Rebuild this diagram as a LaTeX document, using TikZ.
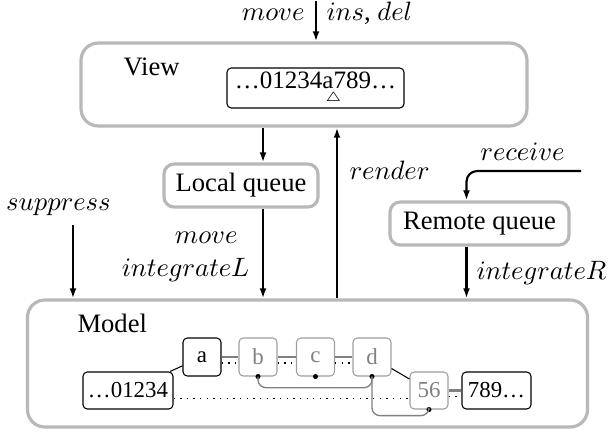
\documentclass[tikz,border=0pt]{standalone}
\usepackage{fontspec}
\setmainfont{Liberation Serif}
\usetikzlibrary{arrows.meta}

\definecolor{framegray}{gray}{0.72}
\definecolor{elemgray}{gray}{0.62}
\definecolor{textgray}{gray}{0.5}
\definecolor{linkgray}{gray}{0.5}

\newcommand\elemfont{\fontsize{8.6pt}{10pt}\selectfont}
\newcommand\bufferfont{\fontsize{9.4pt}{11pt}\selectfont}

\tikzset{
  pxsize/.style 2 args={minimum width=#1*0.376pt, minimum height=#2*0.376pt},
  frame/.style={draw=framegray, line width=1.2pt, rounded corners=6.5pt, inner sep=0pt},
  queue/.style={draw=framegray, line width=1.2pt, rounded corners=3.8pt, inner sep=0pt},
  seq/.style={draw=black, line width=0.4pt, rounded corners=1.6pt, inner sep=0pt, font=\elemfont},
  ghost/.style={draw=elemgray, text=textgray, line width=0.4pt, rounded corners=1.6pt,
                inner sep=0pt, pxsize={38}{38}, font=\elemfont},
  flow/.style={-{Latex[length=3.8pt,width=2.6pt]}, line width=0.8pt},
  mlabel/.style={inner sep=0pt},
  marker/.style={circle, fill=black, inner sep=0pt, minimum size=1.9pt},
  nextlink/.style={draw=linkgray, line width=0.9pt},
  seqlink/.style={dotted, line width=0.5pt},
  pointer/.style={draw=linkgray, line width=0.5pt, rounded corners=3pt}
}

\begin{document}
\begin{tikzpicture}[x=0.376pt, y=-0.376pt]
  \useasboundingbox (0,0) rectangle (608,436);

  % ---- view layer ----
  \node[frame, pxsize={446}{83}] (view) at (304,84.5) {};
  \node[mlabel, anchor=base west] (viewname) at (123,75) {View};
  \node[seq, pxsize={177}{40}, font=\bufferfont] (buffer) at (315.5,88)
    {\ldots01234a\makebox[0pt]{\raisebox{-5pt}{$\scriptscriptstyle\triangle$}}789\ldots};

  % ---- queues ----
  \node[queue, pxsize={154}{43}] (local) at (241,185.5) {Local queue};
  \node[queue, pxsize={179}{43}] (remote) at (479.5,223.5) {Remote queue};

  % ---- model layer ----
  \node[frame, pxsize={560}{127}] (model) at (307.5,363.5) {};
  \node[mlabel, anchor=base west] (modelname) at (77,332) {Model};

  \node[seq, pxsize={38}{38}] (a) at (202,357) {a};
  \node[ghost] (b) at (258,357) {b};
  \node[ghost] (c) at (315.5,357) {c};
  \node[ghost] (d) at (372,357) {d};
  \node[seq, pxsize={90}{37}] (head) at (128,390.5) {\ldots01234};
  \node[ghost, pxsize={38}{37}] (n56) at (429,390.5) {56};
  \node[seq, pxsize={69}{37}] (tail) at (496.5,390.5) {789\ldots};

  % ---- links between elements ----
  \draw (head) -- (a);
  \draw (d) -- (n56);
  \foreach \p/\q in {a/b, b/c, c/d, n56/tail} {
    \draw[nextlink] (\p.east) -- (\q.west);
    \draw[seqlink] ([yshift=-2.2pt]\p.east) -- ([yshift=-2.2pt]\q.west);
  }
  \draw[seqlink] ([yshift=-3pt]head.east) -- ([yshift=-3pt]n56.west);

  \node[marker] (bdot) at (b.south) {};
  \node[marker] (cdot) at (c.south) {};
  \node[marker] (ddot) at (d.south) {};
  \node[marker] (sdot) at (n56.south) {};
  \draw[pointer] (bdot.center) |- ([yshift=-4.2pt]ddot.center) -- (ddot.center);
  \draw[pointer] (ddot.center) |- ([yshift=-2.3pt]sdot.center) -- (sdot.center);

  % ---- flows ----
  \coordinate (instop) at (316,1);
  \coordinate (lx) at (263,0);
  \coordinate (rx) at (337,0);
  \coordinate (sx) at (73,225);
  \coordinate (rcv) at (581,171);
  \coordinate (qx) at (466.5,0);

  \draw[flow] (instop) -- (instop |- view.north);
  \draw[flow] (view.south -| lx) -- (local.north -| lx);
  \draw[flow] (local.south -| lx) -- (model.north -| lx);
  \draw[flow] (model.north -| rx) -- (view.south -| rx);
  \draw[flow] (sx) -- (model.north -| sx);
  \draw[flow, rounded corners=4pt] (rcv) -| (remote.north -| qx);
  \draw[flow] (remote.south -| qx) -- (model.north -| qx);

  % ---- labels ----
  \node[mlabel, anchor=base east] (movetop) at (305,20) {$move$};
  \node[mlabel, anchor=base west] (insdel) at (326,20) {$ins$, $del$};
  \node[mlabel, anchor=base west] (render) at (349,179) {$render$};
  \node[mlabel, anchor=base] (receive) at (522.5,160) {$receive$};
  \node[mlabel, anchor=base] (suppress) at (58.5,210) {$suppress$};
  \node[mlabel, anchor=base east] (movel) at (238,243) {$move$};
  \node[mlabel, anchor=base east] (intl) at (250,276) {$integrateL$};
  \node[mlabel, anchor=base west] (intr) at (476,279) {$integrateR$};
\end{tikzpicture}
\end{document}
